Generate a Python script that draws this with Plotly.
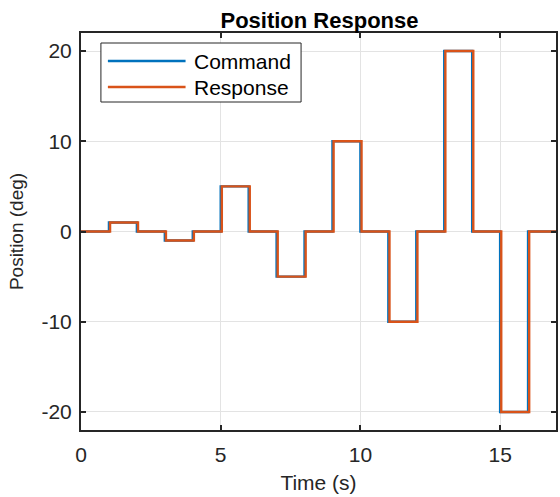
import plotly.graph_objects as go

# Command signal (step changes)
cmd_t = [0, 1, 2, 3, 4, 5, 6, 7, 8, 9, 10, 11, 12, 13, 14, 15, 16, 17]
cmd_y = [0, 1, 0, -1, 0, 5, 0, -5, 0, 10, 0, -10, 0, 20, 0, -20, 0, 0]

# Response (slightly lagged steps)
resp_t = [0, 1.04, 2.04, 3.04, 4.04, 5.04, 6.04, 7.04, 8.04, 9.04, 10.04, 11.04, 12.04, 13.04, 14.04, 15.04, 16.04, 17]
resp_y = [0, 1, 0, -1, 0, 5, 0, -5, 0, 10, 0, -10, 0, 20, 0, -20, 0, 0]

x_ticks = [0, 5, 10, 15]
x_labels = ["0", "5", "10", "15"]
y_ticks = [-20, -10, 0, 10, 20]
y_labels = ["-20", "-10", "0", "10", "20"]

series_names = ["Command", "Response"]
series_colors = ["#0072BD", "#D95319"]

FONT = "Liberation Sans, Arial, Helvetica"
W, H = 560, 497
L, R, T, B = 81, 2, 33, 67
PW, PH = W - L - R, H - T - B


def px_to_paper_x(px):
    return (px - L) / PW


def px_to_paper_y(py):
    return (H - B - py) / PH


fig = go.Figure()
fig.add_trace(go.Scatter(x=cmd_t, y=cmd_y, mode="lines", line_shape="hv",
                         name=series_names[0], line=dict(color=series_colors[0], width=2.4)))
fig.add_trace(go.Scatter(x=resp_t, y=resp_y, mode="lines", line_shape="hv",
                         name=series_names[1], line=dict(color=series_colors[1], width=2.4)))

axis_common = dict(showgrid=True, gridcolor="#E3E3E3", gridwidth=1,
                   showline=True, linecolor="#262626", linewidth=2, mirror="ticks",
                   ticks="inside", ticklen=5, tickwidth=2, tickcolor="#262626",
                   zeroline=False, tickfont=dict(size=21, color="#262626", family=FONT))

fig.update_xaxes(range=[0, 17], tickvals=x_ticks, ticktext=x_labels,
                 ticklabelstandoff=5,
                 title=dict(text="Time (s)", standoff=10,
                            font=dict(size=21, color="#262626", family=FONT)),
                 **axis_common)
fig.update_yaxes(range=[-22, 22], tickvals=y_ticks, ticktext=y_labels,
                 ticklabelstandoff=3,
                 title=dict(text="Position (deg)", standoff=13,
                            font=dict(size=19, color="#262626", family=FONT)),
                 **axis_common)

# Manual legend (MATLAB-style long line samples)
lx0, lx1, ly0, ly1 = 101, 302, 43, 102
fig.add_shape(type="rect", xref="paper", yref="paper",
              x0=px_to_paper_x(lx0), x1=px_to_paper_x(lx1),
              y0=px_to_paper_y(ly1), y1=px_to_paper_y(ly0),
              line=dict(color="#262626", width=1), fillcolor="white", layer="above")
item_y = [61, 87]
for name, color, yy in zip(series_names, series_colors, item_y):
    fig.add_shape(type="line", xref="paper", yref="paper",
                  x0=px_to_paper_x(108), x1=px_to_paper_x(186),
                  y0=px_to_paper_y(yy), y1=px_to_paper_y(yy),
                  line=dict(color=color, width=2.4), layer="above")
    fig.add_annotation(xref="paper", yref="paper", x=px_to_paper_x(192), y=px_to_paper_y(yy),
                       xanchor="left", yanchor="middle", text=name, showarrow=False,
                       font=dict(size=21, color="black", family=FONT))

fig.update_layout(
    width=W, height=H,
    margin=dict(l=L, r=R, t=T, b=B),
    paper_bgcolor="white", plot_bgcolor="white",
    title=dict(text="<b>Position Response</b>", x=319.5 / W, xanchor="center",
               y=1 - 20 / H, yanchor="middle",
               font=dict(size=22, color="black", family=FONT)),
    showlegend=False,
)

fig.write_html("out.html")
